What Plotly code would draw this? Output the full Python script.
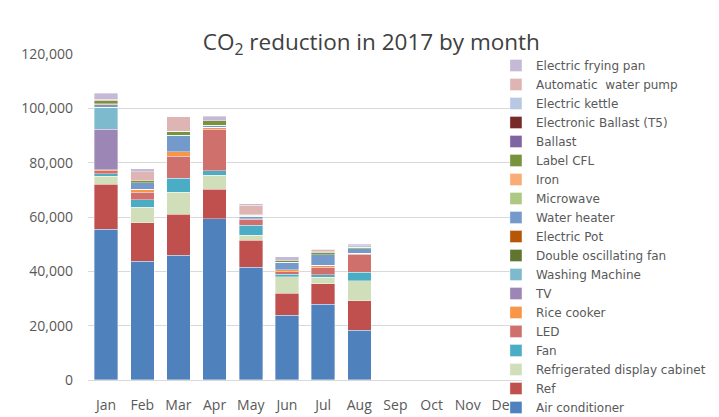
import plotly.graph_objects as go

months = ["Jan", "Feb", "Mar", "Apr", "May", "Jun", "Jul", "Aug", "Sep", "Oct", "Nov", "Dec"]

# Series listed bottom-to-top of the stack (values for Jan..Aug; Sep-Dec empty)
air_conditioner = [55500, 43800, 45900, 59300, 41500, 23900, 27900, 18400, 0, 0, 0, 0]
ref = [16500, 14100, 15200, 10900, 10000, 8000, 7500, 10700, 0, 0, 0, 0]
refrigerated_cabinet = [3000, 5600, 8000, 5200, 1800, 6100, 2500, 7500, 0, 0, 0, 0]
fan = [1000, 2900, 5100, 1600, 3700, 900, 900, 3100, 0, 0, 0, 0]
led = [1100, 2700, 8200, 15300, 2100, 1000, 2700, 6500, 0, 0, 0, 0]
rice_cooker = [300, 1200, 1600, 700, 300, 600, 700, 500, 0, 0, 0, 0]
tv = [14900, 0, 0, 0, 0, 0, 0, 0, 0, 0, 0, 0]
washing_machine = [8100, 0, 0, 0, 0, 0, 0, 0, 0, 0, 0, 0]
double_osc_fan = [0, 0, 0, 0, 0, 0, 0, 0, 0, 0, 0, 0]
electric_pot = [0, 0, 0, 0, 0, 0, 0, 0, 0, 0, 0, 0]
water_heater = [1000, 2400, 6100, 700, 900, 2800, 3900, 1700, 0, 0, 0, 0]
microwave = [0, 0, 0, 0, 0, 0, 0, 0, 0, 0, 0, 0]
iron = [200, 0, 0, 0, 0, 0, 0, 0, 0, 0, 0, 0]
label_cfl = [1200, 700, 1500, 1700, 300, 600, 700, 400, 0, 0, 0, 0]
ballast = [0, 0, 0, 0, 0, 0, 0, 0, 0, 0, 0, 0]
electronic_ballast = [0, 0, 0, 0, 0, 0, 0, 0, 0, 0, 0, 0]
electric_kettle = [0, 0, 0, 0, 200, 0, 400, 700, 0, 0, 0, 0]
auto_water_pump = [500, 3200, 5300, 0, 3600, 0, 1000, 0, 0, 0, 0, 0]
electric_frying_pan = [2200, 1200, 0, 1700, 500, 1500, 0, 400, 0, 0, 0, 0]

series = [
    ("Air conditioner", air_conditioner, "#4F81BD"),
    ("Ref", ref, "#C0504D"),
    ("Refrigerated display cabinet", refrigerated_cabinet, "#D0DEBA"),
    ("Fan", fan, "#4BACC6"),
    ("LED", led, "#CF706D"),
    ("Rice cooker", rice_cooker, "#F79646"),
    ("TV", tv, "#9C86B6"),
    ("Washing Machine", washing_machine, "#7DBACE"),
    ("Double oscillating fan", double_osc_fan, "#5F7530"),
    ("Electric Pot", electric_pot, "#B65708"),
    ("Water heater", water_heater, "#739ACB"),
    ("Microwave", microwave, "#ADC883"),
    ("Iron", iron, "#F9AB78"),
    ("Label CFL", label_cfl, "#77933C"),
    ("Ballast", ballast, "#8064A2"),
    ("Electronic Ballast (T5)", electronic_ballast, "#772C2A"),
    ("Electric kettle", electric_kettle, "#B8C8E2"),
    ("Automatic  water pump", auto_water_pump, "#DFB5B4"),
    ("Electric frying pan", electric_frying_pan, "#C4B9D6"),
]

fig = go.Figure()
for name, vals, color in series:
    fig.add_trace(go.Bar(
        x=months, y=vals, name=name,
        marker=dict(color=color, line=dict(color="rgba(255,255,255,0.6)", width=0.6)),
    ))

fig.update_layout(
    width=711, height=409,
    barmode="stack", bargap=0.35,
    paper_bgcolor="white", plot_bgcolor="white",
    margin=dict(l=80, r=197, t=0, b=0, autoexpand=False),
    font=dict(family="Open Sans, Lato, sans-serif", size=13, color="#595959"),
    title=dict(text="CO<sub>2</sub> reduction in 2017 by month", x=0.511, xanchor="center",
               y=0.917, yanchor="middle", font=dict(size=22.5, color="#404040")),
    legend=dict(traceorder="reversed", x=0.94, xanchor="left", y=0.8949, yanchor="top",
                font=dict(family="DejaVu Sans, sans-serif", size=12, color="#595959"),
                itemwidth=30, tracegroupgap=0, bgcolor="rgba(0,0,0,0)"),
    showlegend=True,
)
fig.update_xaxes(showgrid=False, showline=True, linecolor="#D9D9D9", linewidth=1,
                 ticks="", ticklabelstandoff=12, tickfont=dict(size=14, color="#595959"))
fig.update_yaxes(range=[0, 120000], dtick=20000, tickformat=",", showgrid=True,
                 domain=[0.0905, 0.8875],
                 gridcolor="#D9D9D9", gridwidth=1, zeroline=False, ticks="",
                 ticklabelstandoff=14, tickfont=dict(size=14, color="#595959"))

fig.write_html("out.html")
